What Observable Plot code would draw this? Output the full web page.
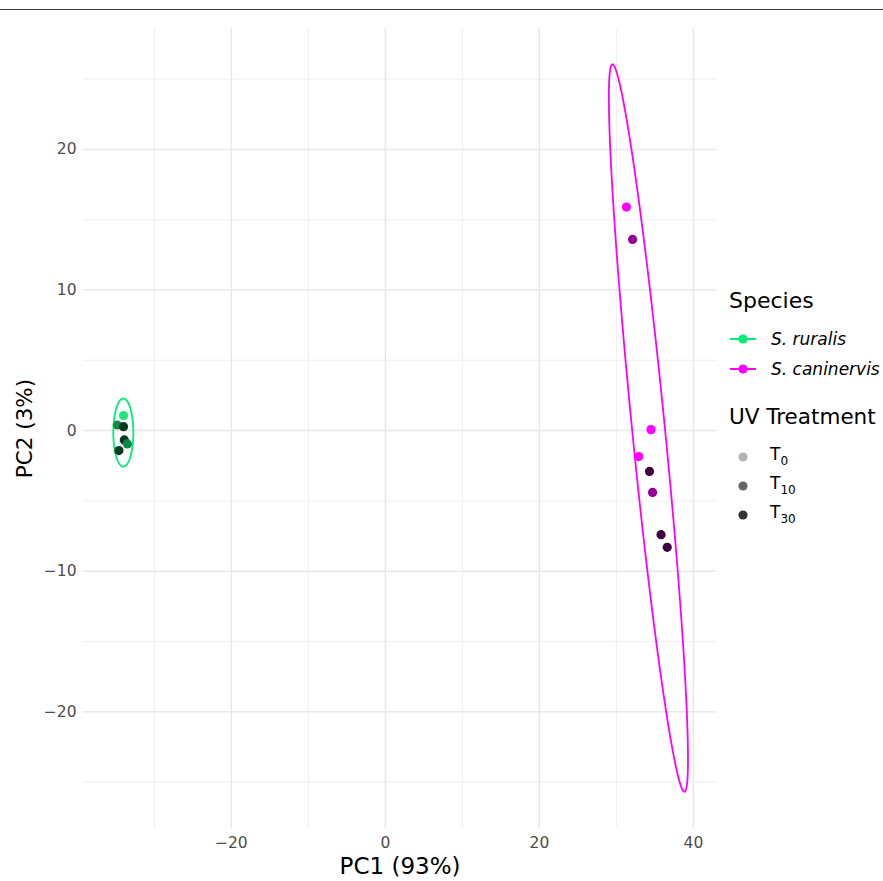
<!DOCTYPE html>
<html>
<head>
<meta charset="utf-8">
<script src="https://cdn.jsdelivr.net/npm/d3@7"></script>
<script src="https://cdn.jsdelivr.net/npm/@observablehq/plot@0.6"></script>
<style>
  body { margin: 0; background: #fff; font-family: "DejaVu Sans", "Liberation Sans", Arial, sans-serif; }
  #wrap { position: relative; width: 883px; height: 881px; overflow: hidden; }
  #topline { position: absolute; left: 0; top: 9px; width: 883px; height: 1px; background: #3a3a3a; }
  .leg { position: absolute; color: #000; white-space: nowrap; line-height: 1; }
  .leglab i { font-style: italic; }
  sub { font-size: 12px; vertical-align: -5px; line-height: 0; }
</style>
</head>
<body>
<div id="wrap">
  <div id="chart"></div>
  <div id="topline"></div>
  <div id="legend"></div>
</div>
<script>
// ---- data ----
const speciesNames = ["S. ruralis", "S. caninervis"];
const treatmentNames = ["T0", "T10", "T30"];

const sampleSpecies = ["S. ruralis","S. ruralis","S. ruralis","S. ruralis","S. ruralis","S. ruralis",
  "S. caninervis","S. caninervis","S. caninervis","S. caninervis","S. caninervis","S. caninervis","S. caninervis","S. caninervis"];
const sampleTreatment = ["T0","T10","T30","T30","T10","T30",
  "T0","T10","T0","T0","T30","T10","T30","T30"];
const pc1 = [-34.0, -34.8, -34.0, -33.9, -33.5, -34.6,
  31.3, 32.1, 34.5, 32.9, 34.3, 34.7, 35.8, 36.6];
const pc2 = [1.07, 0.40, 0.28, -0.66, -0.95, -1.42,
  15.9, 13.6, 0.07, -1.85, -2.9, -4.4, -7.4, -8.3];

// ellipse parameters (center, half major axis vector, half minor axis vector) in data units
const ellipseSpecies = ["S. ruralis", "S. caninervis"];
const ellipseCenterX = [-34.03, 34.16];
const ellipseCenterY = [-0.14, 0.18];
const ellipseMajorX = [0.0, -4.68];
const ellipseMajorY = [2.42, 25.87];
const ellipseMinorX = [1.30, 2.12];
const ellipseMinorY = [0.0, 0.115];

const xTicks = [-20, 0, 20, 40];
const xMinor = [-30, -10, 10, 30];
const yTicks = [-20, -10, 0, 10, 20];
const yMinor = [-25, -15, -5, 5, 15, 25];

// ---- styles ----
const FONT = '"DejaVu Sans", "Liberation Sans", Arial, sans-serif';
const speciesColor = {"S. ruralis": "#00EE76", "S. caninervis": "#FF00FF"};
const pointColor = {
  "S. ruralis|T0": "#1DE87A", "S. ruralis|T10": "#13874A", "S. ruralis|T30": "#083A20",
  "S. caninervis|T0": "#FF00FF", "S. caninervis|T10": "#990099", "S. caninervis|T30": "#3F0040"
};
const legendGray = {"T0": "#b3b3b3", "T10": "#666666", "T30": "#333333"};

const samples = pc1.map((x, i) => ({x, y: pc2[i], species: sampleSpecies[i], treatment: sampleTreatment[i],
  color: pointColor[sampleSpecies[i] + "|" + sampleTreatment[i]]}));

const ellipsePts = [];
ellipseSpecies.forEach((s, k) => {
  const n = 200;
  for (let j = 0; j <= n; j++) {
    const t = 2 * Math.PI * j / n;
    ellipsePts.push({
      species: s,
      x: ellipseCenterX[k] + Math.cos(t) * ellipseMajorX[k] + Math.sin(t) * ellipseMinorX[k],
      y: ellipseCenterY[k] + Math.cos(t) * ellipseMajorY[k] + Math.sin(t) * ellipseMinorY[k]
    });
  }
});

const chart = Plot.plot({
  width: 883,
  height: 881,
  marginLeft: 83,
  marginRight: 167,
  marginTop: 28,
  marginBottom: 53,
  style: {fontFamily: FONT, background: "white", overflow: "visible"},
  x: {domain: [-39.2, 43.0]},
  y: {domain: [-28.3, 28.6]},
  marks: [
    Plot.ruleX(xMinor, {stroke: "#ebebeb", strokeWidth: 0.8}),
    Plot.ruleY(yMinor, {stroke: "#ebebeb", strokeWidth: 0.8}),
    Plot.ruleX(xTicks, {stroke: "#e8e8e8", strokeWidth: 1.5}),
    Plot.ruleY(yTicks, {stroke: "#e8e8e8", strokeWidth: 1.5}),
    Plot.axisX({ticks: xTicks, tickSize: 0, tickPadding: 8, fontSize: 15.5, color: "#4d4d4d", label: null}),
    Plot.axisY({ticks: yTicks, tickSize: 0, tickPadding: 7, fontSize: 15.5, color: "#4d4d4d", label: null}),
    Plot.line(ellipsePts, {x: "x", y: "y", z: "species", stroke: d => speciesColor[d.species], strokeWidth: 1.8}),
    Plot.dot(samples, {x: "x", y: "y", r: 4.6, fill: "color", stroke: null}),
    Plot.text(["PC1 (93%)"], {text: d => d, frameAnchor: "bottom", dy: 38, fontSize: 23, fill: "#000", lineAnchor: "middle", textAnchor: "middle"}),
    Plot.text(["PC2 (3%)"], {text: d => d, frameAnchor: "left", dx: -58, rotate: -90, fontSize: 21.5, fill: "#000", lineAnchor: "middle", textAnchor: "middle"})
  ]
});
document.getElementById("chart").appendChild(chart);

// ---- legend ----
const legend = document.getElementById("legend");
function add(html, left, baseline, fs) {
  const d = document.createElement("div");
  d.className = "leg leglab";
  d.style.left = left + "px";
  d.style.fontSize = fs + "px";
  d.style.top = (baseline - 0.846 * fs) + "px";
  d.innerHTML = html;
  legend.appendChild(d);
}
function addBox(html, left, top) {
  const d = document.createElement("div");
  d.className = "leg";
  d.style.left = left + "px";
  d.style.top = top + "px";
  d.innerHTML = html;
  legend.appendChild(d);
}
add("Species", 729, 309, 22);
speciesNames.forEach((s, i) => {
  const cy = 339 + i * 30;
  addBox(`<svg width="28" height="12" style="display:block"><line x1="1" y1="6" x2="27" y2="6" stroke="${speciesColor[s]}" stroke-width="2"/><circle cx="14" cy="6" r="4.6" fill="${speciesColor[s]}"/></svg>`, 729, cy - 6);
  add(`<i>${s}</i>`, 771, cy + 6, 17);
});
add("UV Treatment", 729, 424, 21.5);
treatmentNames.forEach((t, i) => {
  const cy = 457 + i * 29;
  addBox(`<svg width="12" height="12" style="display:block"><circle cx="6" cy="6" r="4.6" fill="${legendGray[t]}"/></svg>`, 737, cy - 6);
  add(`T<sub>${t.slice(1)}</sub>`, 770, cy + 3, 17);
});
</script>
</body>
</html>
